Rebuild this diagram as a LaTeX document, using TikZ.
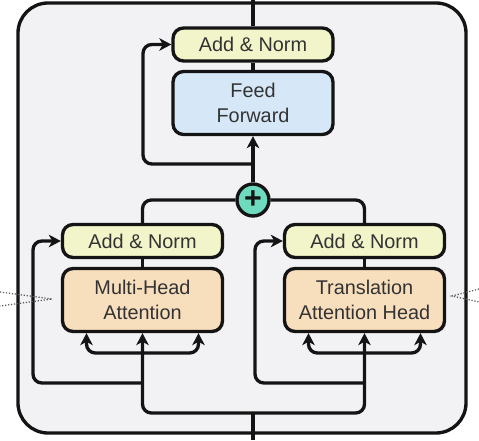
\documentclass[tikz,border=0pt]{standalone}
\usepackage{fontspec}
\setmainfont{Liberation Sans}
\usepackage{tikz}
\usetikzlibrary{arrows.meta, positioning, calc}
\definecolor{cLine}{rgb}{0.08, 0.08, 0.08}
\definecolor{cBlock}{rgb}{0.95, 0.95, 0.96}
\definecolor{cNorm}{rgb}{0.95, 0.96, 0.79}
\definecolor{cFeed}{rgb}{0.84, 0.91, 0.97}
\definecolor{cAttn}{rgb}{0.97, 0.87, 0.74}
\definecolor{cSum}{rgb}{0.43, 0.86, 0.75}

\begin{document}
\begin{tikzpicture}[
    line width=1.9pt, cLine,
    layer/.style={rectangle, rounded corners=6pt, draw=cLine, line width=1.9pt, minimum width=3.2cm, align=center, text=black!80, font=\fontsize{11.3}{14}\selectfont},
    norm/.style={layer, fill=cNorm, minimum height=0.66cm},
    feed/.style={layer, fill=cFeed, minimum height=1.26cm},
    attn/.style={layer, fill=cAttn, minimum height=1.26cm},
    sum/.style={circle, draw=cLine, fill=cSum, minimum size=0.64cm, inner sep=0pt, font=\LARGE\bfseries},
    arrow/.style={-{Stealth[length=2.4mm, width=2.5mm, inset=0.7mm]}, line width=1.9pt, cLine},
    wire/.style={line width=1.9pt, cLine, rounded corners=5pt},
    guide/.style={densely dotted, line width=0.7pt, black!65}
]
\useasboundingbox (0,0) rectangle (9.58,8.8);

% Block frame
\draw[fill=cBlock, rounded corners=0.6cm] (0.36,0.14) rectangle (9.32,8.74);

% Upper sub-layer
\node[norm] (normTop) at (5.06, 7.91) {Add \& Norm};
\node[feed] (feed) at (5.06, 6.74) {Feed\\Forward};
\node[sum] (sum) at (5.06, 4.8) {+};

% Two attention branches
\node[norm] (normL) at (2.85, 3.98) {Add \& Norm};
\node[attn] (mha) at (2.85, 2.8) {Multi-Head\\Attention};
\node[norm] (normR) at (7.29, 3.98) {Add \& Norm};
\node[attn] (tah) at (7.29, 2.8) {Translation\\Attention Head};

% Free ends
\coordinate (outTop) at (5.06, 8.8);
\coordinate (inBottom) at (5.06, 0);
\coordinate (split) at (5.06, 0.54);
\coordinate (resTop) at (5.06, 5.52);

% Main path, top
\draw[wire] (normTop.north) -- (outTop);
\draw[wire] (feed.north) -- (normTop.south);
\draw[arrow] (sum.north) -- (feed.south);
\draw[arrow, rounded corners=5pt] (resTop) -- (2.86, 5.52) |- (normTop.west);

% Sum fed by both branches
\draw[wire] (normL.north) |- (sum.west);
\draw[wire] (normR.north) |- (sum.east);
\draw[wire] (mha.north) -- (normL.north |- normL.south);
\draw[wire] (tah.north) -- (normR.north |- normR.south);

% Input split
\draw[wire] (inBottom) -- (split);
\draw[arrow, rounded corners=5pt] (split) -| (mha.south);
\draw[arrow, rounded corners=5pt] (split) -| (tah.south);

% Q, K, V into each head
\draw[arrow, rounded corners=5pt] (2.86, 1.74) -| ([xshift=-1.12cm]mha.south);
\draw[arrow, rounded corners=5pt] (2.86, 1.74) -| ([xshift=1.12cm]mha.south);
\draw[arrow, rounded corners=5pt] (7.3, 1.74) -| ([xshift=-1.12cm]tah.south);
\draw[arrow, rounded corners=5pt] (7.3, 1.74) -| ([xshift=1.12cm]tah.south);

% Residuals around the heads
\draw[arrow, rounded corners=5pt] (2.86, 1.14) -| (0.66, 3.0) |- (normL.west);
\draw[arrow, rounded corners=5pt] (7.3, 1.14) -| (5.1, 3.0) |- (normR.west);

% Dotted guides at the sides
\coordinate (tipL) at (1.04, 2.82);
\coordinate (tipR) at (9.04, 2.88);
\draw[guide] (0, 2.96) -- (tipL) -- (0, 2.68);
\draw[guide] (9.58, 3.02) -- (tipR) -- (9.58, 2.76);

\end{tikzpicture}
\end{document}
